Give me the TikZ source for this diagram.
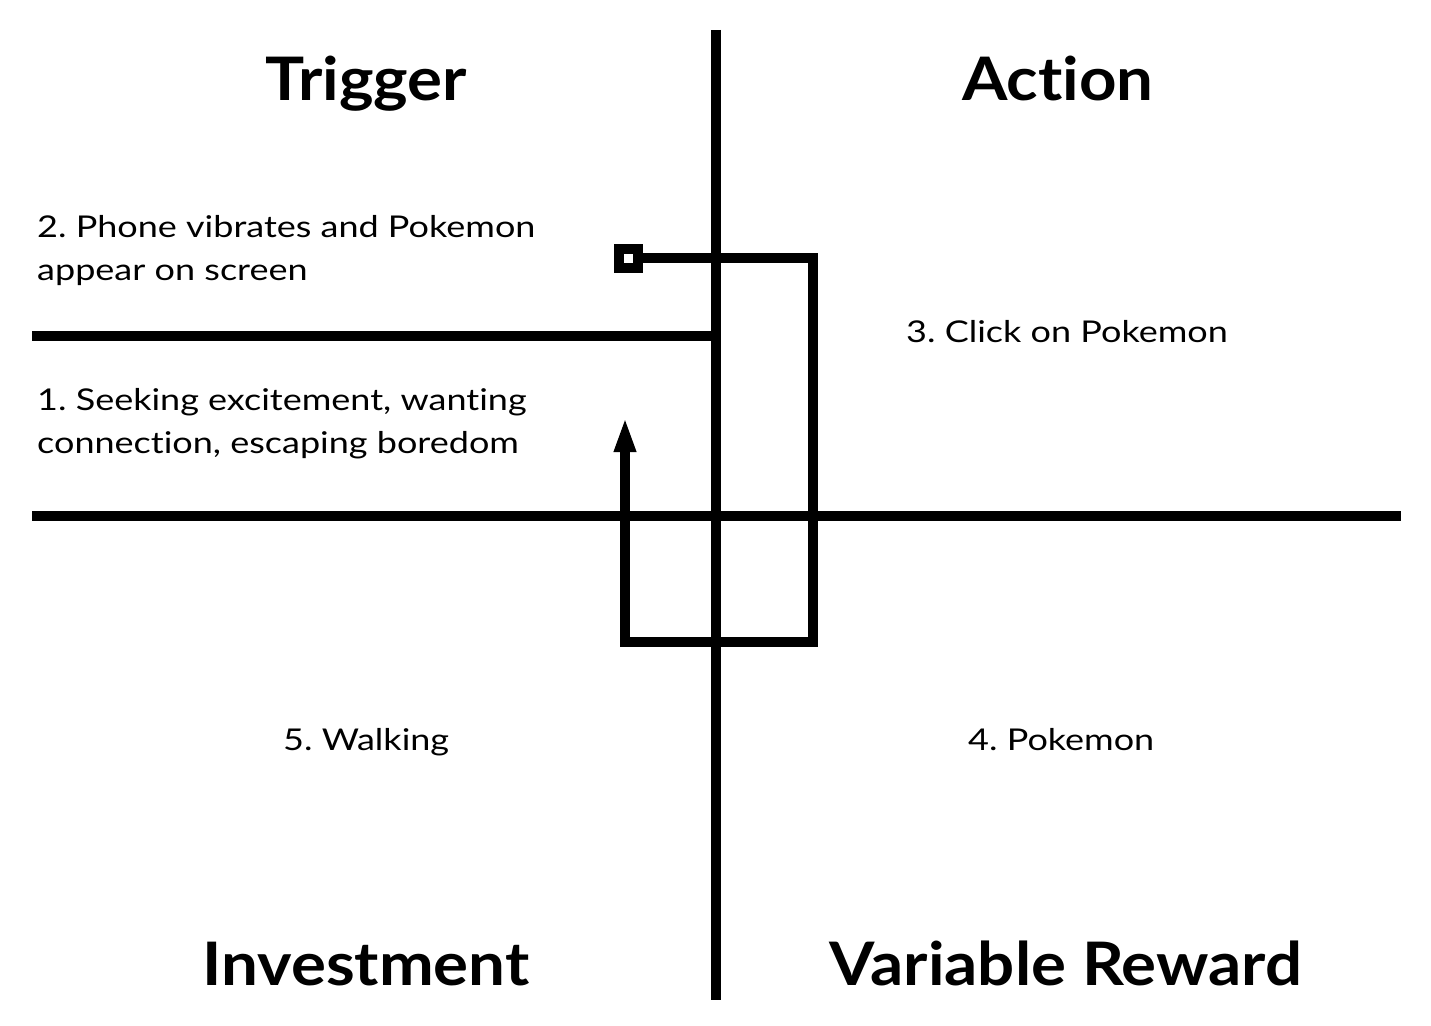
\documentclass[tikz,border=0pt]{standalone}
\usepackage{fontspec}
\setmainfont{Lato}
\newfontfamily\bodyfont{Lato}[FakeStretch=1.2, Ligatures=NoCommon]
\newfontfamily\titlefont{Lato}[FakeStretch=1.09, Ligatures=NoCommon]
\usetikzlibrary{arrows.meta}
\begin{document}
\frenchspacing
\begin{tikzpicture}[x=1pt,y=-1pt,
  thick line/.style={line width=10pt, black},
  title/.style={font=\titlefont\fontsize{60}{70}\selectfont\bfseries, inner sep=0pt, anchor=base},
  body/.style={font=\bodyfont\fontsize{30}{43}\selectfont, inner sep=0pt, anchor=base west, align=left}]
\useasboundingbox[fill=white] (0,0) rectangle (1431,1025);
% axes
\coordinate (vtop) at (716,30);
\coordinate (vbot) at (716,1000);
\coordinate (hl) at (32,516);
\coordinate (hr) at (1401,516);
\coordinate (ul) at (32,336);
\coordinate (ur) at (716,336);
\draw[thick line] (vtop) -- (vbot);
\draw[thick line] (hl) -- (hr);
\draw[thick line] (ul) -- (ur);
% loop path
\node[draw, line width=10pt, minimum size=19pt, inner sep=0pt] (sq) at (628,258) {};
\coordinate (c1) at (813,258);
\coordinate (c2) at (813,642);
\coordinate (c3) at (625,642);
\coordinate (tip) at (625,417);
\draw[thick line, line join=miter, -{Triangle[length=35pt,width=20pt]}] (sq.east) -- (c1) -- (c2) -- (c3) -- (tip);
% titles
\node[title] (trig) at (366,100) {Trigger};
\node[title] (act) at (1058,100) {Action};
\node[title] (inv) at (366,985) {Investment};
\node[title] (rew) at (1066,985) {Variable Reward};
% texts
\node[body] (t2a) at (37,237) {2. Phone vibrates and Pokemon};
\node[body] (t2b) at (37,280) {appear on screen};
\node[body] (t1a) at (37,410) {1. Seeking excitement, wanting};
\node[body] (t1b) at (37,453) {connection, escaping boredom};
\node[body] (t3) at (906,342) {3. Click on Pokemon};
\node[body] (t5) at (283,750) {5. Walking};
\node[body] (t4) at (968,750) {4. Pokemon};
\end{tikzpicture}
\end{document}
